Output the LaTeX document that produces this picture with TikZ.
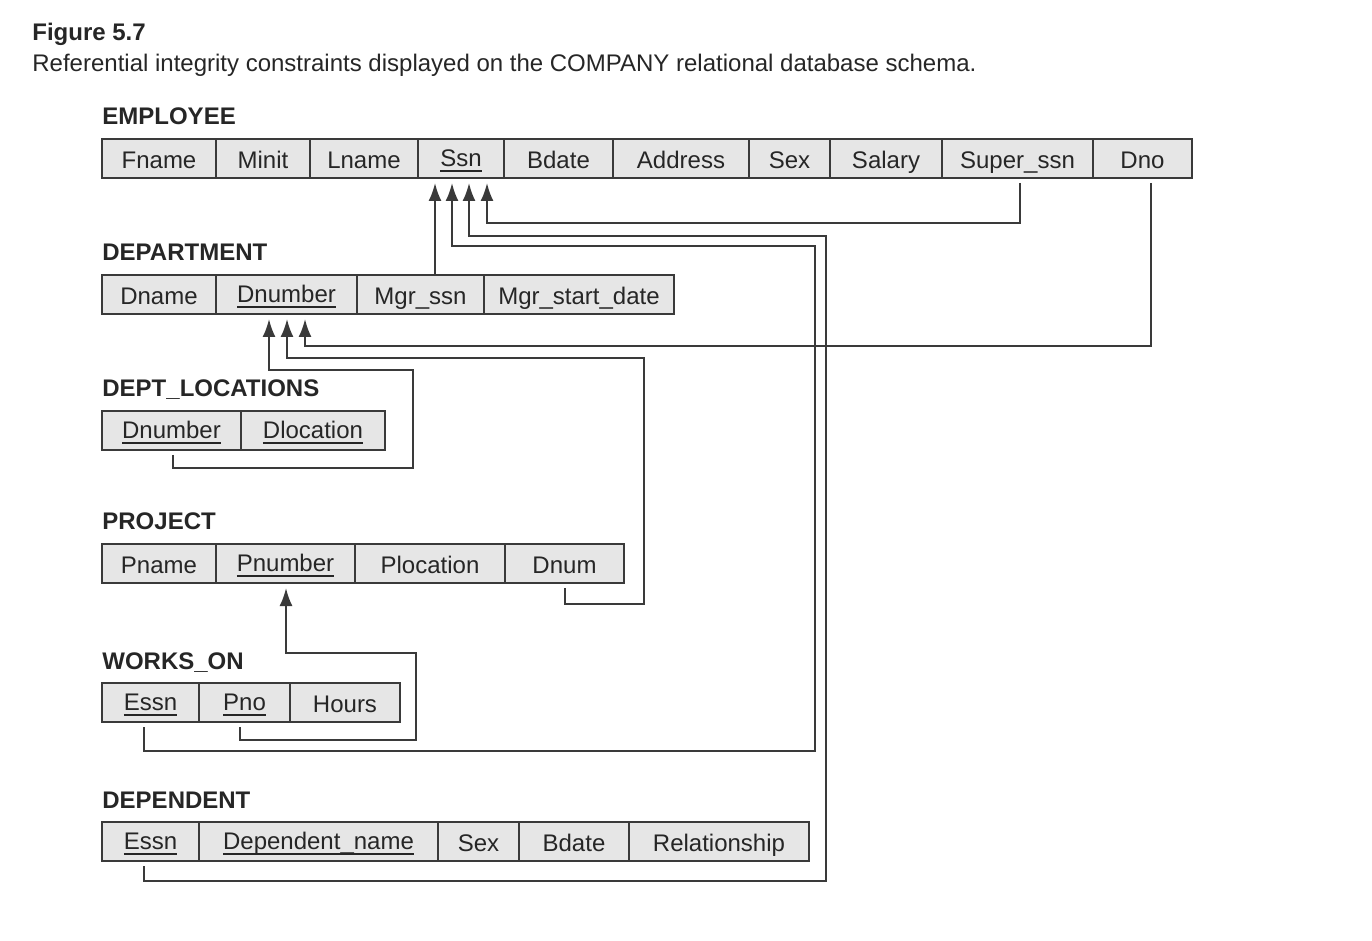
\documentclass[tikz,border=0pt]{standalone}
\usepackage{fontspec}
\setmainfont{Liberation Sans}
\usetikzlibrary{arrows.meta}

\definecolor{cellgray}{HTML}{E6E6E6}
\definecolor{inkgray}{HTML}{3A3A3A}

% primary key: raised a little and underlined
\newcommand\pkey[1]{\setbox0\hbox{#1}\raisebox{1pt}{\rlap{\rule[-2.6pt]{\wd0}{0.8pt}}\box0}}

\begin{document}
\begin{tikzpicture}[
                        x = 0.5pt, y = -0.5pt,
                        > = {Latex[length=9pt,width=6.5pt]},
              cell/.style = {rectangle,
                            draw=inkgray,
                            fill=cellgray,
                            line width=0.9pt,
                            minimum height=19.5pt,
                            text height=10pt,
                            text depth=0pt,
                            inner sep=0pt,
                            outer sep=0pt,
                            text=black!85,
                            font=\fontsize{12}{14}\selectfont},
           relname/.style = {anchor=base west, inner sep=0pt, text=black!85,
                            font=\bfseries\fontsize{12}{14}\selectfont},
           caption/.style = {anchor=base west, inner sep=0pt, text=black!85,
                            font=\fontsize{12}{14}\selectfont},
                fk/.style = {->, draw=inkgray, line width=1pt,
                            shorten >=2.5pt, shorten <=2.5pt},
            ]
    \useasboundingbox (0,0) rectangle (1372,941);

    % caption
    \node[caption, font=\bfseries\fontsize{12}{14}\selectfont] (fig) at (32,41) {Figure 5.7};
    \node[caption] (cap) at (32,72) {Referential integrity constraints displayed on the COMPANY relational database schema.};

    % EMPLOYEE
    \node[relname] (emp) at (102,125) {EMPLOYEE};
    \foreach \n/\t/\a/\b in {fname/Fname/102/216, minit/Minit/216/310, lname/Lname/310/418,
                             ssn/\pkey{Ssn}/418/504, bdate/Bdate/504/613, addr/Address/613/749,
                             sex/Sex/749/830, salary/Salary/830/942, super/Super\_ssn/942/1093,
                             dno/Dno/1093/1192}{%
        \node[cell, minimum width={(\b-\a)*0.5pt}] (emp-\n) at ({(\a+\b)/2},158.5) {\t};
    }

    % DEPARTMENT
    \node[relname] (dep) at (102,261) {DEPARTMENT};
    \foreach \n/\t/\a/\b in {dname/Dname/102/216, dnum/\pkey{Dnumber}/216/357,
                             mgr/Mgr\_ssn/357/484, start/Mgr\_start\_date/484/674}{%
        \node[cell, minimum width={(\b-\a)*0.5pt}] (dep-\n) at ({(\a+\b)/2},294.5) {\t};
    }

    % DEPT_LOCATIONS
    \node[relname] (loc) at (102,397) {DEPT\_LOCATIONS};
    \foreach \n/\t/\a/\b in {dnum/\pkey{Dnumber}/102/241, dloc/\pkey{Dlocation}/241/385}{%
        \node[cell, minimum width={(\b-\a)*0.5pt}] (loc-\n) at ({(\a+\b)/2},430.5) {\t};
    }

    % PROJECT
    \node[relname] (proj) at (102,530) {PROJECT};
    \foreach \n/\t/\a/\b in {pname/Pname/102/216, pnum/\pkey{Pnumber}/216/355,
                             ploc/Plocation/355/505, dnum/Dnum/505/624}{%
        \node[cell, minimum width={(\b-\a)*0.5pt}] (proj-\n) at ({(\a+\b)/2},563.5) {\t};
    }

    % WORKS_ON
    \node[relname] (wo) at (102,669) {WORKS\_ON};
    \foreach \n/\t/\a/\b in {essn/\pkey{Essn}/102/199, pno/\pkey{Pno}/199/290, hours/Hours/290/400}{%
        \node[cell, minimum width={(\b-\a)*0.5pt}] (wo-\n) at ({(\a+\b)/2},702.5) {\t};
    }

    % DEPENDENT
    \node[relname] (dpt) at (102,808) {DEPENDENT};
    \foreach \n/\t/\a/\b in {essn/\pkey{Essn}/102/199, dname/\pkey{Dependent\_name}/199/438,
                             sex/Sex/438/519, bdate/Bdate/519/629, rel/Relationship/629/809}{%
        \node[cell, minimum width={(\b-\a)*0.5pt}] (dpt-\n) at ({(\a+\b)/2},841.5) {\t};
    }

    % foreign keys into Ssn
    \draw[fk, shorten <=0pt] ([shift={(14.5,0)}]dep-mgr.north) -- ([shift={(-26,0)}]emp-ssn.south);
    \draw[fk] ([shift={(-6.5,0)}]wo-essn.south) -- ++(0,29)
        -| ([shift={(354,68)}]emp-ssn.south) -| ([shift={(-9,0)}]emp-ssn.south);
    \draw[fk] ([shift={(-6.5,0)}]dpt-essn.south) -- ++(0,20)
        -| ([shift={(365,58)}]emp-ssn.south) -| ([shift={(8,0)}]emp-ssn.south);
    \draw[fk] ([shift={(2.5,0)}]emp-super.south) -- ++(0,45) -| ([shift={(26,0)}]emp-ssn.south);

    % foreign keys into Dnumber
    \draw[fk] ([shift={(8.5,0)}]emp-dno.south) |- ([shift={(18.5,32)}]dep-dnum.south)
        -- ([shift={(18.5,0)}]dep-dnum.south);
    \draw[fk] ([shift={(0.5,0)}]proj-dnum.south) -- ++(0,21)
        -| ([shift={(357.5,44)}]dep-dnum.south) -| ([shift={(0.5,0)}]dep-dnum.south);
    \draw[fk] ([shift={(1.5,0)}]loc-dnum.south) -- ++(0,18)
        -| ([shift={(126.5,56)}]dep-dnum.south) -| ([shift={(-17.5,0)}]dep-dnum.south);

    % foreign key into Pnumber
    \draw[fk] ([shift={(-4.5,0)}]wo-pno.south) -- ++(0,18)
        -| ([shift={(130.5,70)}]proj-pnum.south) -| ([shift={(0.5,0)}]proj-pnum.south);
\end{tikzpicture}
\end{document}
